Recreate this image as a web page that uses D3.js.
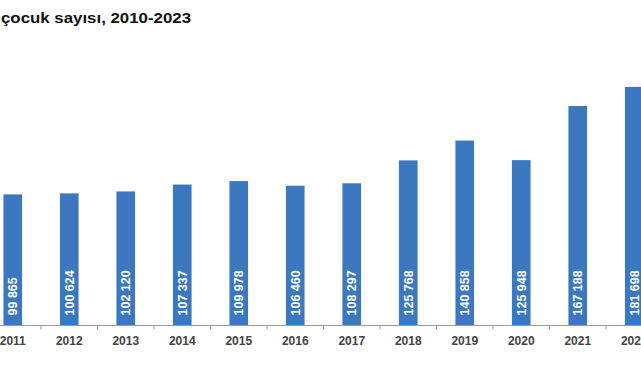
<!DOCTYPE html>
<html><head><meta charset="utf-8">
<script src="https://cdn.jsdelivr.net/npm/d3@7"></script>
<style>html,body{margin:0;padding:0;background:#fff;overflow:hidden}</style>
</head><body>
<svg id="c" width="641" height="380"></svg>
<script>
const titleText = "çocuk sayısı, 2010-2023";
const years = ["2011","2012","2013","2014","2015","2016","2017","2018","2019","2020","2021","2022"];
const values = [99865,100624,102120,107337,109978,106460,108297,125768,140858,125948,167188,181698];
const valueLabels = ["99 865","100 624","102 120","107 337","109 978","106 460","108 297","125 768","140 858","125 948","167 188","181 698"];

const svg = d3.select("#c");
const x = d3.scaleBand().domain(years).range([-15.5, 662.5]).paddingInner(0.67).paddingOuter(0.335);
const y = d3.scaleLinear().domain([0, 200000]).range([325.5, 62.9]);

svg.append("text").attr("x", 1).attr("y", 22.5)
  .attr("font-family", "Liberation Sans, Arial, sans-serif").attr("font-weight", "bold")
  .attr("font-size", 15).attr("fill", "#111")
  .attr("textLength", 190).attr("lengthAdjust", "spacingAndGlyphs")
  .text(titleText);

svg.selectAll("rect.bar").data(years).enter().append("rect")
  .attr("x", d => x(d)).attr("width", x.bandwidth())
  .attr("y", (d, i) => y(values[i])).attr("height", (d, i) => y(0) - y(values[i]))
  .attr("fill", "#3B78C0");

svg.selectAll("text.lbl").data(years).enter().append("text")
  .attr("transform", d => `translate(${x(d) + x.bandwidth() / 2 + 4.5},${y(0) - 10}) rotate(-90)`)
  .attr("font-family", "Liberation Sans, Arial, sans-serif").attr("font-weight", "bold")
  .attr("font-size", 12.5).attr("fill", "#fff").attr("text-anchor", "start")
  .text((d, i) => valueLabels[i]);

// axis
const axis = d3.axisBottom(x).tickSize(0).tickPadding(11);
const g = svg.append("g").attr("transform", `translate(0,${y(0)})`).call(axis);
g.select(".domain").remove();
g.selectAll("text").attr("font-family", "Liberation Sans, Arial, sans-serif")
  .attr("font-weight", "bold").attr("font-size", 12).attr("fill", "#444");
g.append("line").attr("x1", 0).attr("x2", 641).attr("y1", 0).attr("y2", 0)
  .attr("stroke", "#999").attr("stroke-width", 1);
const step = x.step();
const bounds = d3.range(0, years.length + 1).map(k => x.range()[0] + k * step);
g.selectAll("line.tk").data(bounds).enter().append("line")
  .attr("x1", d => d).attr("x2", d => d).attr("y1", 0).attr("y2", 4)
  .attr("stroke", "#999").attr("stroke-width", 1);
</script>
</body></html>
